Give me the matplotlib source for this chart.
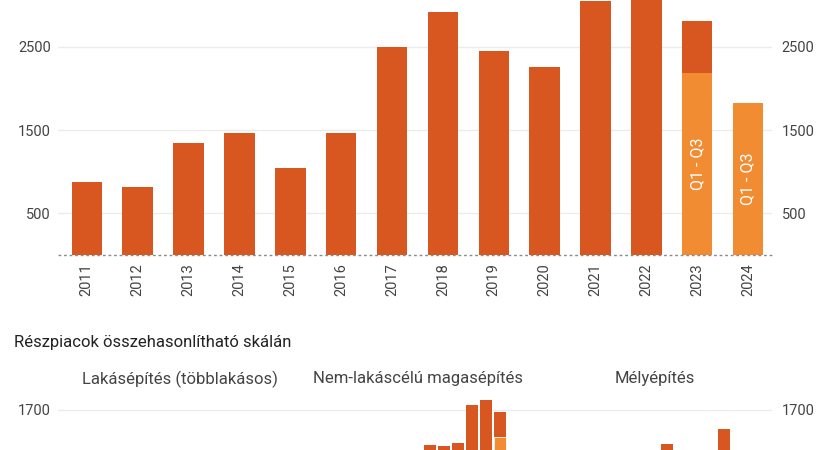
import matplotlib.pyplot as plt
import matplotlib.transforms as mtransforms
import numpy as np

plt.rcParams['font.family'] = ['Roboto', 'DejaVu Sans']

# adatok
years = ['2011', '2012', '2013', '2014', '2015', '2016', '2017',
         '2018', '2019', '2020', '2021', '2022', '2023', '2024']
# teljes év (2024-re még nincs)
full_year = [880, 820, 1350, 1460, 1050, 1460, 2500, 2920, 2450, 2260, 3050, 3500, 2810, None]
# Q1 - Q3 (csak 2023, 2024)
q1_q3 = [None] * 12 + [2190, 1830]

panel_titles = ['Lakásépítés (többlakásos)', 'Nem-lakáscélú magasépítés', 'Mélyépítés']
panel_full = [
    [230, 210, 300, 310, 220, 320, 550, 540, 380, 350, 330, 230, 340, None],
    [300, 280, 450, 500, 380, 520, 900, 1180, 1170, 1210, 1770, 1850, 1670, None],
    [350, 330, 600, 650, 450, 620, 1050, 1200, 900, 700, 950, 1420, 800, None],
]
panel_q = [
    [None] * 12 + [290, 330],
    [None] * 12 + [1300, 900],
    [None] * 12 + [600, 600],
]

DARK = '#d8561f'
LIGHT = '#f28c33'
GRID = '#ececec'
TXT = '#444444'

W, H = 825, 450


def box(left, top, right, bottom):
    # pixel -> figure fraction
    return [left / W, 1 - bottom / H, (right - left) / W, (bottom - top) / H]


fig = plt.figure(figsize=(W / 100, H / 100), dpi=100)

# felső diagram
top_max = 3600
ax = fig.add_axes(box(58, 255 - top_max * 0.08325, 772, 255))
x = np.arange(len(years))
for i in range(len(years)):
    if full_year[i] is not None:
        ax.bar(x[i], full_year[i], width=0.6, color=DARK, zorder=2)
    if q1_q3[i] is not None:
        ax.bar(x[i], q1_q3[i], width=0.6, color=LIGHT, zorder=3)
        ax.text(x[i], q1_q3[i] / 2, 'Q1 - Q3', rotation=90, color='white',
                ha='center', va='center', fontsize=11.5, zorder=4)
ax.set_xlim(-0.567, 13.47)
ax.set_ylim(0, top_max)
ax.set_xticks(x)
ax.set_xticklabels(years, rotation=90, fontsize=10.5, color=TXT)
ax.set_yticks([500, 1500, 2500])
ax.tick_params(axis='x', length=0, pad=6)
ax.tick_params(axis='y', length=0, pad=5, labelsize=10.5, labelcolor=TXT)
ax.grid(axis='y', color=GRID, linewidth=1, zorder=0)
ax.axhline(0, color='#8a8a8a', linestyle=(0, (2, 2)), linewidth=1, zorder=5, clip_on=False)
for s in ax.spines.values():
    s.set_visible(False)

ax_r = ax.twinx()
ax_r.set_ylim(ax.get_ylim())
ax_r.set_yticks([500, 1500, 2500])
ax_r.tick_params(axis='y', length=0, pad=7, labelsize=10.5, labelcolor=TXT)
for s in ax_r.spines.values():
    s.set_visible(False)

# alsó rész
fig.text(14 / W, 1 - 342 / H, 'Részpiacok összehasonlítható skálán',
         fontsize=12, color='#222222', ha='left', va='center')

bot_max = 2000
bx = fig.add_axes(box(58, 525 - bot_max * 0.06765, 772, 525))
gap = 16.84
for p in range(3):
    xs = np.arange(len(years)) + p * gap
    for i in range(len(years)):
        if panel_full[p][i] is not None:
            bx.bar(xs[i], panel_full[p][i], width=0.85, color=DARK, zorder=2)
        if panel_q[p][i] is not None:
            bx.bar(xs[i], panel_q[p][i], width=0.85, color=LIGHT, zorder=3,
                   edgecolor='white', linewidth=0.6)
    tr = mtransforms.blended_transform_factory(bx.transData, fig.transFigure)
    bx.text(xs.mean() - 0.35, 1 - 379 / H, panel_titles[p], transform=tr,
            ha='center', va='center', fontsize=12, color=TXT)
bx.set_xlim(-2.5, 48.1)
bx.set_ylim(0, bot_max)
bx.set_xticks([])
bx.set_yticks([1700])
bx.tick_params(axis='y', length=0, pad=5, labelsize=10.5, labelcolor=TXT)
bx.grid(axis='y', color=GRID, linewidth=1, zorder=0)
for s in bx.spines.values():
    s.set_visible(False)

bx_r = bx.twinx()
bx_r.set_ylim(bx.get_ylim())
bx_r.set_yticks([1700])
bx_r.tick_params(axis='y', length=0, pad=7, labelsize=10.5, labelcolor=TXT)
for s in bx_r.spines.values():
    s.set_visible(False)

fig.savefig('out.png', dpi=100)
